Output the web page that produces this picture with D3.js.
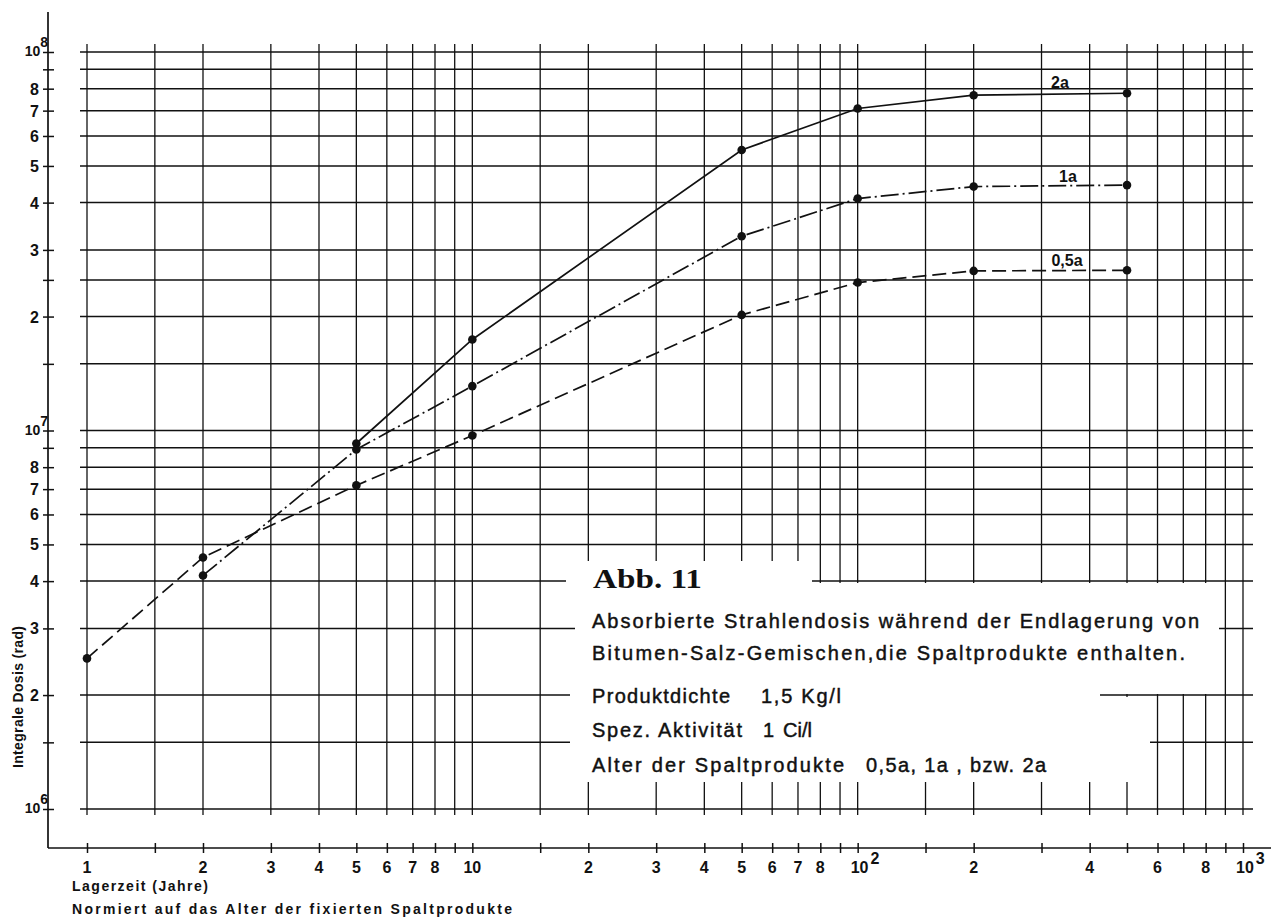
<!DOCTYPE html>
<html><head><meta charset="utf-8">
<script src="https://cdn.jsdelivr.net/npm/d3@7"></script>
<style>body{margin:0;background:#fff}svg{display:block}</style>
</head><body>
<script>
// ---------- data ----------
const xGridValues = [1,1.5,2,3,4,5,6,7,8,9,10,15,20,30,40,50,60,70,80,90,100,150,200,300,400,500,600,700,800,900,1000];
const yGridValues = [1e6,1.5e6,2e6,3e6,4e6,5e6,6e6,7e6,8e6,9e6,1e7,1.5e7,2e7,2.5e7,3e7,4e7,5e7,6e7,7e7,8e7,9e7,1e8];
const xLabelValues = [1,2,3,4,5,6,7,8,10,20,30,40,50,60,70,80,100,200,400,600,800,1000];
const xLabelTexts  = ["1","2","3","4","5","6","7","8","10","2","3","4","5","6","7","8","10^2","2","4","6","8","10^3"];
const yLabelValues = [1e6,2e6,3e6,4e6,5e6,6e6,7e6,8e6,1e7,2e7,3e7,4e7,5e7,6e7,7e7,8e7,1e8];
const yLabelTexts  = ["10^6","2","3","4","5","6","7","8","10^7","2","3","4","5","6","7","8","10^8"];

const years2a  = [5,10,50,100,200,500];
const dose2a   = [9.24e6,1.74e7,5.51e7,7.09e7,7.69e7,7.78e7];
const years1a  = [2,5,10,50,100,200,500];
const dose1a   = [4.14e6,8.91e6,1.31e7,3.26e7,4.10e7,4.41e7,4.45e7];
const years05a = [1,2,5,10,50,100,200,500];
const dose05a  = [2.50e6,4.62e6,7.16e6,9.70e6,2.02e7,2.46e7,2.64e7,2.65e7];
const seriesNames = ["2a","1a","0,5a"];

const yAxisTitle = "Integrale Dosis (rad)";
const xAxisTitle = "Lagerzeit (Jahre)";
const xAxisNote  = "Normiert auf das Alter der fixierten Spaltprodukte";
const figTitle   = "Abb. 11";
const infoLines  = [
  "Absorbierte Strahlendosis während der Endlagerung von",
  "Bitumen-Salz-Gemischen,die Spaltprodukte enthalten."
];
const infoPairs = [["Produktdichte","1,5 Kg/l"],["Spez. Aktivität","1","Ci/l"],["Alter der Spaltprodukte","0,5a, 1a , bzw. 2a"]];

// ---------- drawing ----------
const W = 1271, H = 917;
const svg = d3.select("body").append("svg").attr("width", W).attr("height", H);
const x = d3.scaleLog().domain([1,1000]).range([87,1243]);
const y = d3.scaleLog().domain([1e6,1e8]).range([809,52]);
const ink = "#111";
const sans = "'Liberation Sans', Arial, sans-serif";

// grid
const grid = svg.append("g").attr("stroke", ink).attr("stroke-width", 1.3);
grid.selectAll("line.v").data(xGridValues).join("line").attr("class","v")
  .attr("x1", d => x(d)).attr("x2", d => x(d)).attr("y1", 44).attr("y2", 815);
grid.selectAll("line.h").data(yGridValues).join("line").attr("class","h")
  .attr("y1", d => y(d)).attr("y2", d => y(d)).attr("x1", 80).attr("x2", 1253)
  .attr("stroke-width", 1.5);

// pasted-over info panel (white patches covering the grid)
const patches = [
  [566, 561, 812, 590],
  [575, 583, 1219, 694],
  [570, 694, 1100, 782],
  [1100, 697, 1150, 782]
];
svg.append("g").selectAll("rect").data(patches).join("rect")
  .attr("x", d => d[0]).attr("y", d => d[1]).attr("width", d => d[2]-d[0]).attr("height", d => d[3]-d[1])
  .attr("fill", "#fff");

// axes
const axes = svg.append("g").attr("stroke", ink).attr("stroke-width", 1.7);
axes.append("line").attr("x1",48).attr("x2",48).attr("y1",12).attr("y2",848);
axes.append("line").attr("x1",48).attr("x2",1271).attr("y1",848).attr("y2",848);

const yAxis = svg.append("g").attr("transform","translate(48,0)")
  .call(d3.axisLeft(y).tickValues(yGridValues).tickSize(5).tickFormat(""));
yAxis.select(".domain").remove();
yAxis.selectAll(".tick line").attr("x1", 6).attr("stroke", ink).attr("stroke-width", 1.5);

const xAxis = svg.append("g").attr("transform","translate(0,848)")
  .call(d3.axisBottom(x).tickValues(xGridValues).tickSize(5).tickFormat(""));
xAxis.select(".domain").remove();
xAxis.selectAll(".tick line").attr("y1", -5).attr("stroke", ink).attr("stroke-width", 1.5);

// y labels
yLabelValues.forEach((v, i) => {
  const t = yLabelTexts[i];
  const txt = svg.append("text").attr("font-family", sans).attr("font-weight","bold")
    .attr("font-size", 16).attr("fill", ink).attr("y", y(v) + 6).attr("text-anchor","end");
  if (t.includes("^")) {
    const [b, e] = t.split("^");
    txt.attr("x", 48).attr("font-size", 14).attr("y", y(v) + 4);
    txt.append("tspan").text(b);
    txt.append("tspan").attr("dy", -9).attr("font-size", 14).text(e);
  } else {
    txt.attr("x", 39).text(t);
  }
});

// x labels
xLabelValues.forEach((v, i) => {
  const t = xLabelTexts[i];
  const txt = svg.append("text").attr("font-family", sans).attr("font-weight","bold")
    .attr("font-size", 16).attr("fill", ink).attr("y", 873);
  if (t.includes("^")) {
    const [b, e] = t.split("^");
    txt.attr("x", x(v) - 7).attr("text-anchor","start");
    txt.append("tspan").text(b);
    txt.append("tspan").attr("dx", 2).attr("dy", -9).attr("font-size", 16).text(e);
  } else {
    txt.attr("x", x(v)).attr("text-anchor","middle").text(t);
  }
});

// titles
svg.append("text").attr("transform","translate(23,697) rotate(-90)")
  .attr("text-anchor","middle").attr("font-family", sans).attr("font-weight","bold")
  .attr("font-size", 14).attr("textLength", 142).attr("lengthAdjust","spacing").attr("fill", ink).text(yAxisTitle);
svg.append("text").attr("x",72).attr("y",891).attr("font-family", sans).attr("font-weight","bold")
  .attr("font-size", 14).attr("textLength", 136).attr("lengthAdjust","spacing").attr("fill", ink).text(xAxisTitle);
svg.append("text").attr("x",72).attr("y",914).attr("font-family", sans).attr("font-weight","bold")
  .attr("font-size", 14).attr("textLength", 440).attr("lengthAdjust","spacing").attr("fill", ink).text(xAxisNote);

// series
const series = [
  {name: seriesNames[0], xs: years2a,  ys: dose2a,  dash: null},
  {name: seriesNames[1], xs: years1a,  ys: dose1a,  dash: "18,4,2,4"},
  {name: seriesNames[2], xs: years05a, ys: dose05a, dash: "14,6"}
];
const line = d3.line().x(d => x(d[0])).y(d => y(d[1]));
series.forEach(s => {
  const pts = s.xs.map((v, i) => [v, s.ys[i]]);
  svg.append("path").datum(pts).attr("d", line).attr("fill","none")
    .attr("stroke", ink).attr("stroke-width", 1.7).attr("stroke-dasharray", s.dash);
  svg.append("g").selectAll("circle").data(pts).join("circle")
    .attr("cx", d => x(d[0])).attr("cy", d => y(d[1])).attr("r", 4.3).attr("fill", ink);
});

// series labels (placed above plateau)
const labelPos = [[1060, 88], [1068, 182], [1067, 266]];
series.forEach((s, i) => {
  svg.append("text").attr("x", labelPos[i][0]).attr("y", labelPos[i][1])
    .attr("text-anchor","middle").attr("font-family", sans).attr("font-weight","bold")
    .attr("font-size", 16).attr("fill", ink).text(s.name);
});

// info panel text
svg.append("text").attr("x",593).attr("y",588).attr("font-family","'Liberation Serif','DejaVu Serif',serif")
  .attr("font-weight","bold").attr("font-size",28).attr("textLength",109).attr("lengthAdjust","spacingAndGlyphs")
  .attr("fill", ink).text(figTitle);
const info = svg.append("g").attr("font-family", sans).attr("font-size", 20).attr("fill", ink)
  .attr("stroke", ink).attr("stroke-width", 0.45);
info.append("text").attr("x",592).attr("y",628).attr("textLength",607).attr("lengthAdjust","spacing").text(infoLines[0]);
info.append("text").attr("x",592).attr("y",660).attr("textLength",593).attr("lengthAdjust","spacing").text(infoLines[1]);
info.append("text").attr("x",592).attr("y",703).attr("textLength",138).attr("lengthAdjust","spacing").text(infoPairs[0][0]);
info.append("text").attr("x",761).attr("y",703).attr("textLength",80).attr("lengthAdjust","spacing").text(infoPairs[0][1]);
info.append("text").attr("x",592).attr("y",737).attr("textLength",150).attr("lengthAdjust","spacing").text(infoPairs[1][0]);
info.append("text").attr("x",763).attr("y",737).text(infoPairs[1][1]);
info.append("text").attr("x",783).attr("y",737).text(infoPairs[1][2]);
info.append("text").attr("x",592).attr("y",772).attr("textLength",252).attr("lengthAdjust","spacing").text(infoPairs[2][0]);
info.append("text").attr("x",866).attr("y",772).attr("textLength",180).attr("lengthAdjust","spacing").text(infoPairs[2][1]);
</script>
</body></html>
